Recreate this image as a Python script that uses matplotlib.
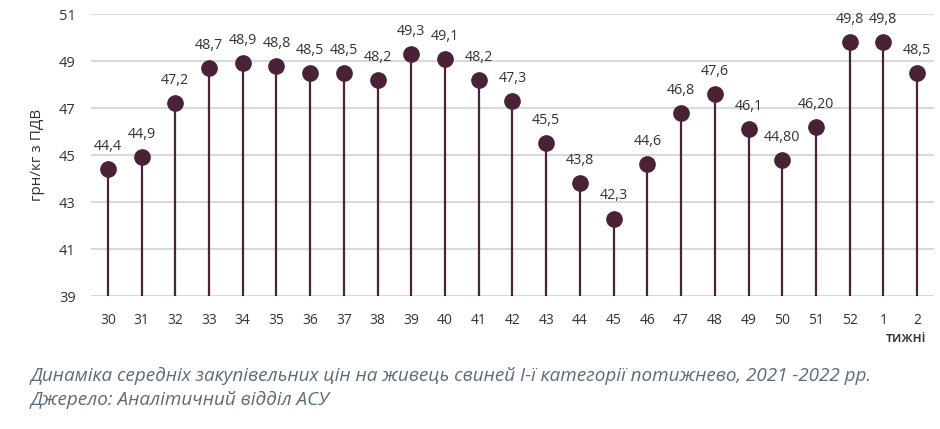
import matplotlib.pyplot as plt

weeks = ['30', '31', '32', '33', '34', '35', '36', '37', '38', '39', '40', '41', '42',
         '43', '44', '45', '46', '47', '48', '49', '50', '51', '52', '1', '2']
prices = [44.4, 44.9, 47.2, 48.7, 48.9, 48.8, 48.5, 48.5, 48.2, 49.3, 49.1, 48.2, 47.3,
          45.5, 43.8, 42.3, 44.6, 46.8, 47.6, 46.1, 44.8, 46.2, 49.8, 49.8, 48.5]
price_labels = ['44,4', '44,9', '47,2', '48,7', '48,9', '48,8', '48,5', '48,5', '48,2',
                '49,3', '49,1', '48,2', '47,3', '45,5', '43,8', '42,3', '44,6', '46,8',
                '47,6', '46,1', '44,80', '46,20', '49,8', '49,8', '48,5']
y_ticks = [39, 41, 43, 45, 47, 49, 51]

plt.rcParams['font.family'] = ['Open Sans', 'DejaVu Sans']
dot = '#4a2238'
txt = '#333333'

fig = plt.figure(figsize=(9.4, 4.29), dpi=100)
ax = fig.add_axes([0.0968, 0.31, 0.8968, 0.657])

x = list(range(len(weeks)))
ax.vlines(x, 39, prices, color=dot, lw=1.6, zorder=2)
ax.plot(x, prices, 'o', color=dot, markersize=11, zorder=3)
for xi, v, lab in zip(x, prices, price_labels):
    ax.annotate(lab, (xi, v), xytext=(0, 11), textcoords='offset points',
                ha='center', va='bottom', fontsize=10.3, color=txt)

ax.set_xlim(-0.5, len(weeks) - 0.5)
ax.set_ylim(39, 51)
ax.set_yticks(y_ticks)
ax.set_xticks(x)
ax.set_xticklabels(weeks)
ax.grid(axis='y', color='#d9d9d9', lw=1.5, zorder=0)
ax.set_axisbelow(True)
ax.tick_params(length=0, labelcolor=txt)
ax.tick_params(axis='x', pad=12, labelsize=10)
ax.tick_params(axis='y', pad=11, labelsize=10.5)
for s in ax.spines.values():
    s.set_visible(False)

ax.set_ylabel('грн/кг з ПДВ', fontsize=11, color=txt, labelpad=10)
fig.text(0.985, 0.212, 'тижні', ha='right', va='center', fontsize=10,
         color=txt, fontweight='semibold')

fig.text(0.032, 0.123, 'Динаміка середніх закупівельних цін на живець свиней І-ї категорії потижнево, 2021 -2022 рр.',
         fontsize=13.6, style='italic', color='#5b6b7b', va='center')
fig.text(0.032, 0.068, 'Джерело: Аналітичний відділ АСУ',
         fontsize=13.6, style='italic', color='#5b6b7b', va='center')

fig.savefig('out.png', dpi=100)
